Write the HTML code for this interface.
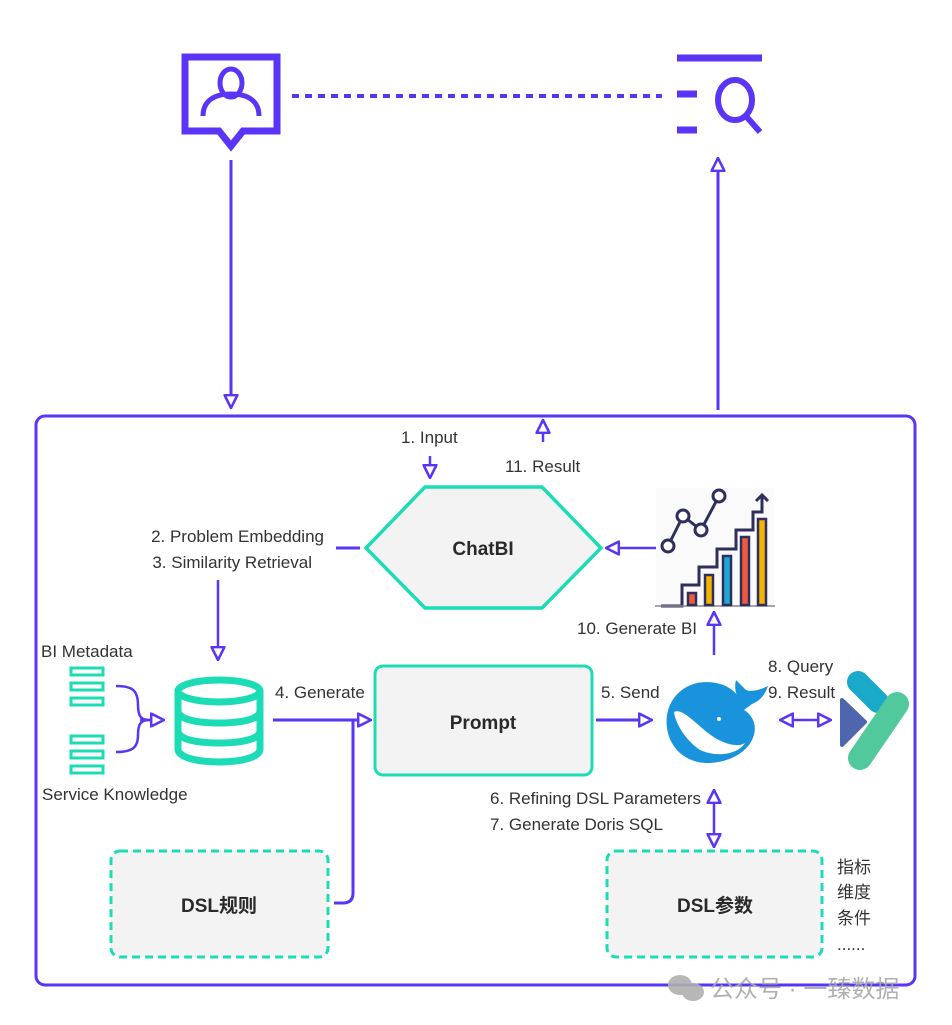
<!DOCTYPE html>
<html><head><meta charset="utf-8"><style>
html,body{margin:0;padding:0;background:#fff;}
svg{display:block;font-family:"Liberation Sans","Noto Sans CJK SC",sans-serif;}
.l{font-size:17px;fill:#333;}
.b{font-size:19px;font-weight:bold;fill:#2a2a2a;}
</style></head><body>
<svg width="952" height="1025" viewBox="0 0 952 1025" xmlns="http://www.w3.org/2000/svg">
<defs>
<marker id="a" viewBox="0 0 14 14" refX="13" refY="7" markerWidth="15" markerHeight="15" markerUnits="userSpaceOnUse" orient="auto-start-reverse">
<path d="M1,1 L13,7 L1,13 Z" fill="#fff" stroke="#5a34f7" stroke-width="2.4"/>
</marker>
</defs>
<g fill="none" stroke="#5a34f7">
<path d="M185,57 H277 V131 H243 L231,146 L219,131 H185 Z" stroke-width="7"/>
<ellipse cx="231" cy="83" rx="11" ry="14" stroke-width="5"/>
<path d="M203,116 C203,101 214,94 231,94 C248,94 259,101 259,116" stroke-width="5"/>
<line x1="292" y1="96" x2="662" y2="96" stroke-width="4" stroke-dasharray="7,6"/>
<line x1="677" y1="58" x2="762" y2="58" stroke-width="7"/>
<line x1="677" y1="94" x2="697" y2="94" stroke-width="7"/>
<line x1="677" y1="130" x2="697" y2="130" stroke-width="7"/>
<ellipse cx="735" cy="100" rx="17" ry="20" stroke-width="6"/>
<line x1="745" y1="115" x2="760" y2="132" stroke-width="6"/>
<line x1="231" y1="160" x2="231" y2="408" stroke-width="3" marker-end="url(#a)"/>
<line x1="718" y1="410" x2="718" y2="158" stroke-width="3" marker-end="url(#a)"/>
<rect x="36" y="416" width="879" height="569" rx="9" stroke-width="3"/>
<line x1="430" y1="456" x2="430" y2="478" stroke-width="2.5" marker-end="url(#a)"/>
<line x1="543" y1="442" x2="543" y2="420" stroke-width="2.5" marker-end="url(#a)"/>
<line x1="336" y1="548" x2="360" y2="548" stroke-width="3"/>
<line x1="218" y1="580" x2="218" y2="660" stroke-width="2.5" marker-end="url(#a)"/>
<line x1="660" y1="548" x2="606" y2="548" stroke-width="2.5" marker-end="url(#a)"/>
<line x1="714" y1="655" x2="714" y2="612" stroke-width="2.5" marker-end="url(#a)"/>
<path d="M116,686 C132,686 138,690 138,705 C138,718 142,720 150,720 M116,752 C132,752 138,748 138,735 C138,722 142,720 150,720" stroke-width="2.5"/>
<line x1="140" y1="720" x2="164" y2="720" stroke-width="2.5" marker-end="url(#a)"/>
<line x1="273" y1="720" x2="371" y2="720" stroke-width="3" marker-end="url(#a)"/>
<path d="M353,720 V893 Q353,903 343,903 H334" stroke-width="3"/>
<line x1="596" y1="720" x2="652" y2="720" stroke-width="3" marker-end="url(#a)"/>
<line x1="780" y1="720" x2="831" y2="720" stroke-width="2.5" marker-start="url(#a)" marker-end="url(#a)"/>
<line x1="714" y1="790" x2="714" y2="847" stroke-width="2.5" marker-start="url(#a)" marker-end="url(#a)"/>
</g>
<polygon points="366,548 425,487 542,487 601,548 542,608 425,608" fill="#f3f3f3" stroke="#1cdcb5" stroke-width="3.5"/>
<text class="b" x="483" y="555" text-anchor="middle">ChatBI</text>
<rect x="375" y="666" width="217" height="109" rx="8" fill="#f3f3f3" stroke="#1cdcb5" stroke-width="3"/>
<text class="b" x="483" y="729" text-anchor="middle">Prompt</text>
<rect x="111" y="851" width="217" height="106" rx="9" fill="#f3f3f3" stroke="#1cdcb5" stroke-width="3" stroke-dasharray="8,5"/>
<text class="b" x="219" y="912" text-anchor="middle">DSL规则</text>
<rect x="607" y="851" width="215" height="106" rx="9" fill="#f3f3f3" stroke="#1cdcb5" stroke-width="3" stroke-dasharray="8,5"/>
<text class="b" x="715" y="912" text-anchor="middle">DSL参数</text>
<g fill="none" stroke="#1cdcb5" stroke-width="7">
<ellipse cx="219" cy="691" rx="41" ry="11"/>
<path d="M178,691 V749 C178,757 196,762 219,762 C242,762 260,757 260,749 V691"/>
<path d="M178,711 C178,719 196,723 219,723 C242,723 260,719 260,711"/>
<path d="M178,731 C178,739 196,743 219,743 C242,743 260,739 260,731"/>
</g>
<g fill="none" stroke="#1cdcb5" stroke-width="3">
<rect x="71" y="668" width="32" height="7"/><rect x="71" y="683" width="32" height="7"/><rect x="71" y="698" width="32" height="7"/>
<rect x="71" y="736" width="32" height="7"/><rect x="71" y="751" width="32" height="7"/><rect x="71" y="766" width="32" height="7"/>
</g>
<rect x="656" y="488" width="118" height="118" fill="#fafafa"/>
<g stroke="#2f2f5e" stroke-width="3" fill="none">
<path d="M661,606 H682 V585 H699 V567 H717 V549 H736 V530 H753 V512 H762 V495"/>
<path d="M756,501 L762,495 L768,501"/>
<polyline points="668,546 683,516 701,530 719,496"/>
<line x1="655" y1="606" x2="775" y2="606" stroke-width="1.5" stroke="#888"/>
</g>
<g stroke="#2f2f5e" stroke-width="2.5">
<rect x="688" y="593" width="8" height="12" fill="#f05a3a"/>
<rect x="705" y="575" width="8" height="30" fill="#f5b400"/>
<rect x="723" y="556" width="8" height="49" fill="#1ea8d6"/>
<rect x="741" y="537" width="8" height="68" fill="#f05a3a"/>
<rect x="758" y="519" width="8" height="86" fill="#f5b400"/>
</g>
<g fill="#fff" stroke="#2f2f5e" stroke-width="3">
<circle cx="668" cy="546" r="6"/><circle cx="683" cy="516" r="6"/><circle cx="701" cy="530" r="6"/><circle cx="719" cy="496" r="6"/>
</g>
<path d="M740,700 C733,684 712,680 697,683 C676,688 664,707 667,728 C670,750 688,764 710,763 C728,762 745,754 752,740 C758,728 754,716 744,710 L752,704 C762,700 766,692 768,686 C760,690 752,692 746,690 C742,686 738,682 736,680 C734,688 736,696 740,700 Z" fill="#1a93dd"/>
<path d="M674,712 C682,708 694,722 708,733 C722,744 738,748 745,743 C738,754 718,758 700,750 C688,742 676,726 674,712 Z" fill="#fff"/>
<circle cx="719" cy="719" r="2" fill="#fff"/>
<path d="M842,700 L865,722 L842,745 Z" fill="#4f66ae" stroke="#4f66ae" stroke-width="4" stroke-linejoin="round"/>
<line x1="858" y1="682" x2="878" y2="702" stroke="#19a9c9" stroke-width="22" stroke-linecap="round"/>
<line x1="897" y1="704" x2="860" y2="758" stroke="#52c99c" stroke-width="24" stroke-linecap="round"/>
<text class="l" x="401" y="443">1. Input</text>
<text class="l" x="505" y="472">11. Result</text>
<text class="l" x="324" y="542" text-anchor="end">2. Problem Embedding</text>
<text class="l" x="312" y="568" text-anchor="end">3. Similarity Retrieval</text>
<text class="l" x="577" y="634">10. Generate BI</text>
<text class="l" x="41" y="657">BI Metadata</text>
<text class="l" x="42" y="800">Service Knowledge</text>
<text class="l" x="275" y="698">4. Generate</text>
<text class="l" x="601" y="698">5. Send</text>
<text class="l" x="768" y="672">8. Query</text>
<text class="l" x="768" y="698">9. Result</text>
<text class="l" x="490" y="804">6. Refining DSL Parameters</text>
<text class="l" x="490" y="830">7. Generate Doris SQL</text>
<text class="l" x="837" y="873">指标</text>
<text class="l" x="837" y="898">维度</text>
<text class="l" x="837" y="924">条件</text>
<text class="l" x="837" y="950">......</text>
<g fill="#b0b0b0" opacity="0.9">
<ellipse cx="680" cy="985" rx="12" ry="10"/><ellipse cx="693" cy="992" rx="11" ry="9"/>
<text x="710" y="997" font-size="24" fill="#a8a8a8">公众号 · 一臻数据</text>
</g>
</svg>
</body></html>
